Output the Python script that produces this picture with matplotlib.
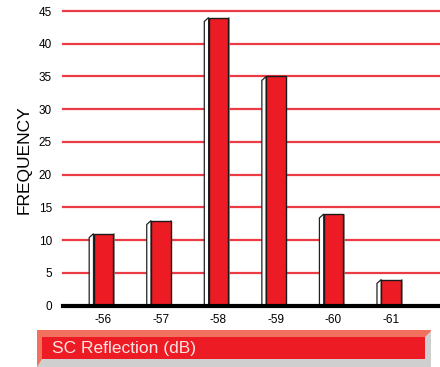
import matplotlib
matplotlib.use("Agg")
import matplotlib.pyplot as plt
from matplotlib.patches import Polygon, Rectangle

# Data
categories = ["-56", "-57", "-58", "-59", "-60", "-61"]
frequency = [11, 13, 44, 35, 14, 4]
y_ticks = [0, 5, 10, 15, 20, 25, 30, 35, 40, 45]

plt.rcParams["font.family"] = ["Liberation Sans", "DejaVu Sans"]

W, H = 440, 367
fig = plt.figure(figsize=(W / 100, H / 100), dpi=100)

def fx(px):
    return px / W

def fy(py):
    return 1 - py / H

ax = fig.add_axes([fx(63), fy(305.7), fx(440) - fx(63), fy(11) - fy(305.7)])
ax.set_xlim(-0.70, 5.85)
ax.set_ylim(0, 45)

RED = "#ED1C24"
GRID = "#EC3B45"

# Horizontal red grid lines
for t in y_ticks[1:]:
    ax.axhline(t, color=GRID, lw=1.6, zorder=1, clip_on=False)

bar_w = 0.34
xs = list(range(len(categories)))

# Pseudo-3D side faces (white, outlined) to the left of each bar
dx = 0.075
dy = 0.6
for x, v in zip(xs, frequency):
    x0 = x - bar_w / 2
    side = Polygon([(x0 - dx, 0), (x0 - dx, v - dy), (x0, v), (x0, 0)],
                   closed=True, facecolor="white", edgecolor="#222222",
                   lw=0.9, zorder=2)
    ax.add_patch(side)
    # soft grey shadow along the right edge
    ax.plot([x + bar_w / 2 + 0.012] * 2, [0, v - 0.1], color="#888888",
            lw=1.2, zorder=2)

ax.bar(xs, frequency, width=bar_w, color=RED, edgecolor="#1a1a1a",
       lw=1.0, zorder=3)

# Axis styling
for s in ["top", "right", "left"]:
    ax.spines[s].set_visible(False)
ax.spines["bottom"].set_linewidth(3)
ax.spines["bottom"].set_color("black")
ax.spines["bottom"].set_zorder(4)

ax.set_yticks(y_ticks)
ax.set_yticklabels([str(t) for t in y_ticks], fontsize=8.5)
ax.tick_params(axis="y", length=0, pad=8)
ax.set_xticks(xs)
ax.set_xticklabels(categories, fontsize=8.5)
ax.tick_params(axis="x", length=0, pad=6)

fig.text(fx(24), fy(160), "FREQUENCY", rotation=90, ha="center",
         va="center", fontsize=12.5)

# Title banner with bevel
def px_rect(x0, y0, x1, y1, color):
    fig.patches.append(Rectangle((fx(x0), fy(y1)), fx(x1) - fx(x0),
                                 fy(y0) - fy(y1), transform=fig.transFigure,
                                 facecolor=color, edgecolor="none"))

def px_poly(points, color):
    fig.patches.append(Polygon([(fx(a), fy(b)) for a, b in points],
                               closed=True, transform=fig.transFigure,
                               facecolor=color, edgecolor="none"))

px_rect(37, 330, 431, 367, "#F2705E")
px_poly([(42, 359), (425, 359), (431, 353), (431, 367), (37, 367)], "#CFCFCF")
px_poly([(425, 337), (431, 331), (431, 367), (425, 367)], "#CFCFCF")
px_rect(42, 337, 425, 359, RED)
fig.text(fx(52), fy(348.5), "SC Reflection (dB)", color="#FBE3E3",
         ha="left", va="center", fontsize=12.5)

fig.savefig("out.png", dpi=100)
